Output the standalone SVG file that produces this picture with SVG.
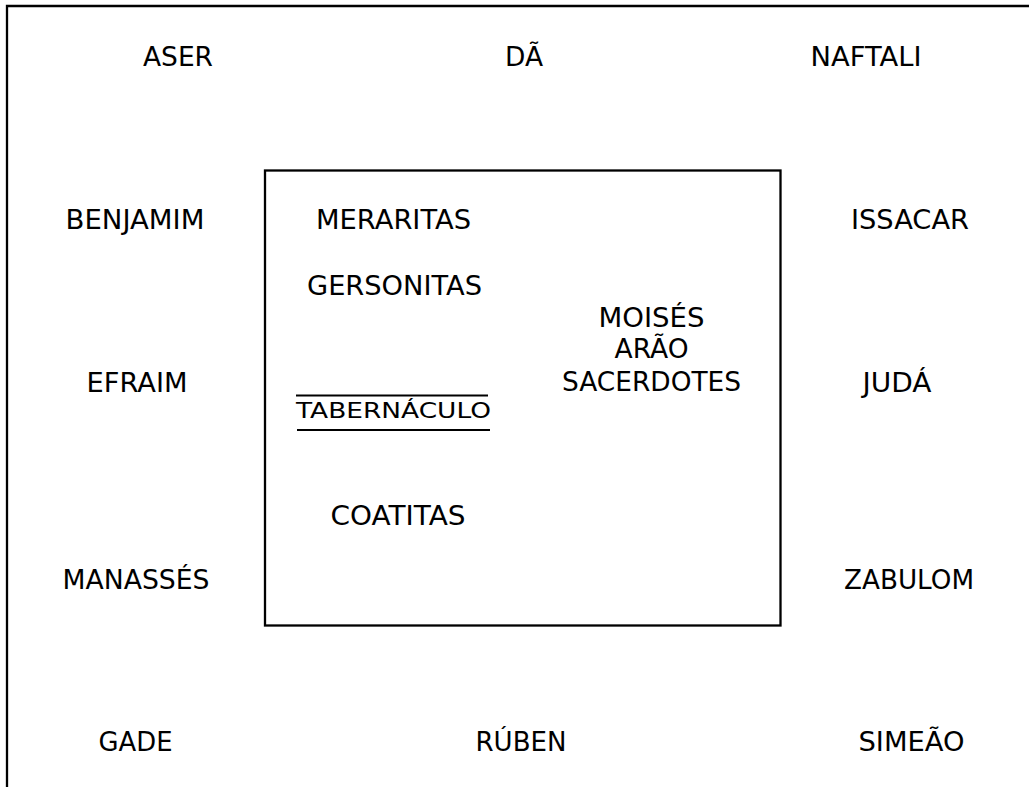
<svg xmlns="http://www.w3.org/2000/svg" width="1029" height="787" viewBox="0 0 1029 787">
<style>
text{font-family:"DejaVu Sans","Verdana",sans-serif;font-size:26px;fill:#000;text-anchor:middle}
.ln{stroke:#000;fill:none}
.sm{font-size:22px}
</style>
<rect x="0" y="0" width="1029" height="787" fill="#fff"/>
<g id="frame"><path class="ln" stroke-width="2.3" d="M7,800 V6 H1040"/></g>
<g id="camp"><rect class="ln" stroke-width="2.3" x="265" y="170.5" width="515.5" height="455"/></g>
<g id="aser"><text x="178" y="66" textLength="70" lengthAdjust="spacingAndGlyphs">ASER</text></g>
<g id="da"><text x="524" y="66" textLength="38" lengthAdjust="spacingAndGlyphs">DÃ</text></g>
<g id="naftali"><text x="866" y="66" textLength="111" lengthAdjust="spacingAndGlyphs">NAFTALI</text></g>
<g id="benjamim"><text x="135" y="229" textLength="139" lengthAdjust="spacingAndGlyphs">BENJAMIM</text></g>
<g id="meraritas"><text x="393.5" y="229" textLength="155" lengthAdjust="spacingAndGlyphs">MERARITAS</text></g>
<g id="issacar"><text x="910" y="229" textLength="118" lengthAdjust="spacingAndGlyphs">ISSACAR</text></g>
<g id="gersonitas"><text x="394.5" y="295" textLength="175" lengthAdjust="spacingAndGlyphs">GERSONITAS</text></g>
<g id="moises"><text x="651.5" y="327" textLength="106" lengthAdjust="spacingAndGlyphs">MOISÉS</text><text x="651.5" y="358" textLength="74" lengthAdjust="spacingAndGlyphs">ARÃO</text><text x="651.5" y="391" textLength="179" lengthAdjust="spacingAndGlyphs">SACERDOTES</text></g>
<g id="efraim"><text x="137" y="392" textLength="101" lengthAdjust="spacingAndGlyphs">EFRAIM</text></g>
<g id="juda"><text x="897" y="392" textLength="69" lengthAdjust="spacingAndGlyphs">JUDÁ</text></g>
<g id="tabernaculo"><path class="ln" stroke-width="1.8" d="M296,395.5 H488 M297,430 H490"/><text class="sm" x="393.5" y="418" textLength="195" lengthAdjust="spacingAndGlyphs">TABERNÁCULO</text></g>
<g id="coatitas"><text x="398" y="525" textLength="135" lengthAdjust="spacingAndGlyphs">COATITAS</text></g>
<g id="manasses"><text x="136" y="589" textLength="147" lengthAdjust="spacingAndGlyphs">MANASSÉS</text></g>
<g id="zabulom"><text x="909" y="589" textLength="130" lengthAdjust="spacingAndGlyphs">ZABULOM</text></g>
<g id="gade"><text x="135.5" y="751" textLength="74" lengthAdjust="spacingAndGlyphs">GADE</text></g>
<g id="ruben"><text x="521" y="751" textLength="91" lengthAdjust="spacingAndGlyphs">RÚBEN</text></g>
<g id="simeao"><text x="911.5" y="751" textLength="106" lengthAdjust="spacingAndGlyphs">SIMEÃO</text></g>
<g id="connectors"></g>
</svg>
